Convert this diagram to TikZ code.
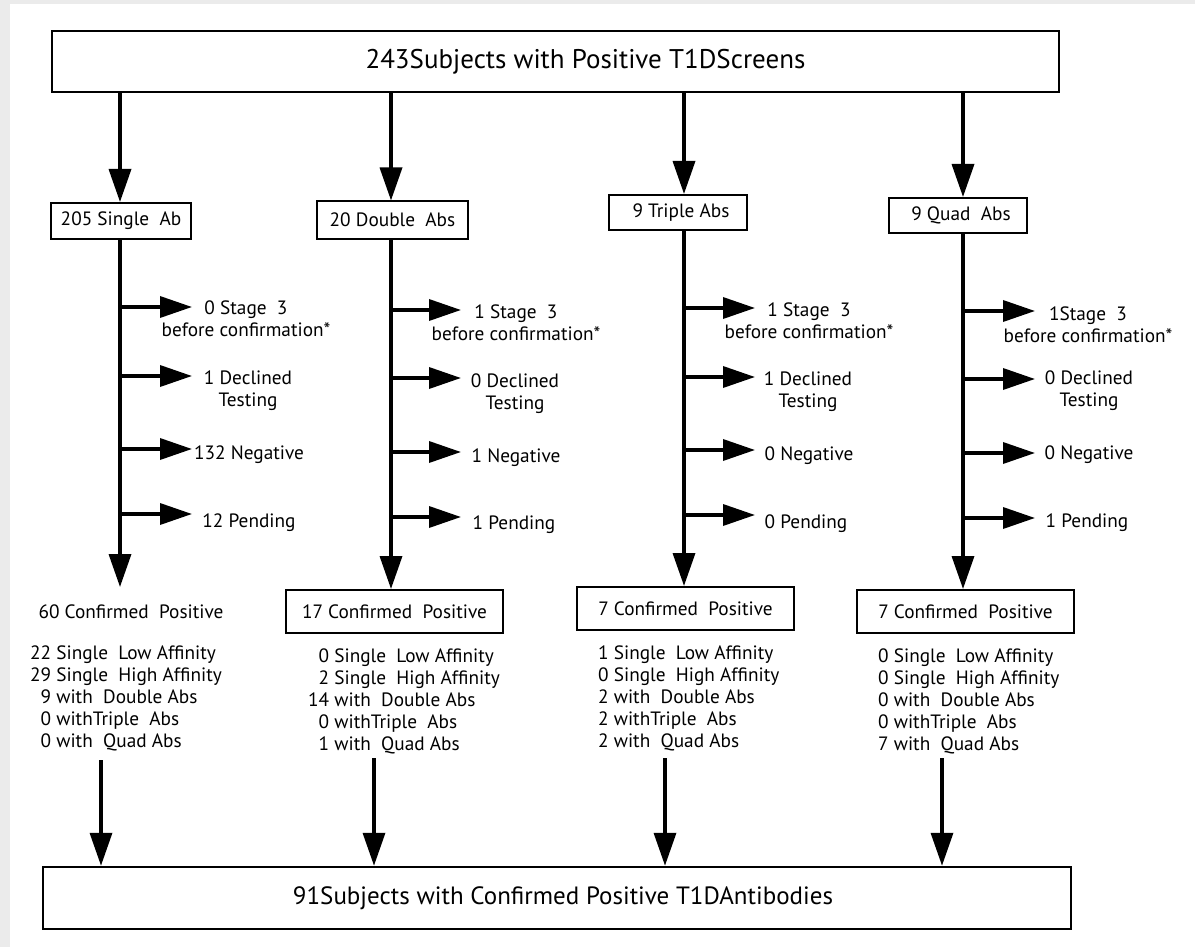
\documentclass[tikz,border=0pt]{standalone}
\usepackage{fontspec}
\setmainfont{PT Sans}
\usetikzlibrary{arrows.meta}
\newcommand\myfont{\fontsize{19.3}{22}\selectfont}
\newcommand\dsp{\ \ }
\begin{document}
\begin{tikzpicture}[x=1pt,y=-1pt,
  topbox/.style={draw=black, line width=2.5pt, inner sep=0pt, font=\fontsize{27}{30}\selectfont},
  botbox/.style={draw=black, line width=2.5pt, inner sep=0pt, font=\fontsize{25}{30}\selectfont},
  abbox/.style={draw=black, line width=2pt, inner sep=0pt, font=\myfont},
  lbl/.style={inner sep=0pt, font=\myfont, anchor=base},
  lst/.style={inner sep=0pt, font=\myfont, anchor=base west},
  colarrow/.style={line width=3.5pt, -{Triangle[length=33pt,width=22pt]}},
  brarrow/.style={line width=3.5pt, -{Triangle[length=32pt,width=21pt]}},
]
\useasboundingbox (0,0) rectangle (1195,947);
\fill[black!8] (0,0) rectangle (1195,947);
\fill[white] (10,4) rectangle (1195,947);

% top and bottom boxes
\node[topbox, minimum width=1007pt, minimum height=61pt] (top) at (555.5,61.5)
  {\hspace*{60pt}243Subjects with Positive T1DScreens};
\node[botbox, minimum width=1028pt, minimum height=62pt] (bot) at (557,898)
  {\hspace*{12pt}91Subjects with Confirmed Positive T1DAntibodies};

% column x coordinates
\coordinate (c1) at (120,0);
\coordinate (c2) at (391,0);
\coordinate (c3) at (684,0);
\coordinate (c4) at (963,0);

% antibody boxes
\node[abbox, minimum width=140pt, minimum height=36pt] (b1) at (121,221) {205 Single\dsp Ab};
\node[abbox, minimum width=151pt, minimum height=37pt] (b2) at (392.5,220) {20 Double\dsp Abs};
\node[abbox, minimum width=138pt, minimum height=35pt] (b3) at (678,212.5) {\hspace*{6pt}9 Triple Abs};
\node[abbox, minimum width=138pt, minimum height=35pt] (b4) at (958,215.5) {\hspace*{6pt}9 Quad\dsp Abs};

\draw[colarrow] (top.south -| c1) -- (b1.north -| c1);
\draw[colarrow] (top.south -| c2) -- (b2.north -| c2);
\draw[colarrow] (top.south -| c3) -- (b3.north -| c3);
\draw[colarrow] (top.south -| c4) -- (b4.north -| c4);

% confirmed positive
\node[inner sep=0pt, font=\myfont] (p1) at (131,612) {60 Confirmed\dsp Positive};
\node[abbox, minimum width=217pt, minimum height=43pt] (p2) at (394.5,611.5) {17 Confirmed\dsp Positive};
\node[abbox, minimum width=217pt, minimum height=43pt] (p3) at (685.5,608.5) {7 Confirmed\dsp Positive};
\node[abbox, minimum width=217pt, minimum height=43pt] (p4) at (965.5,611.5) {7 Confirmed\dsp Positive};

\coordinate (t1) at (120,587);
\draw[colarrow] (b1.south -| c1) -- (t1);
\draw[colarrow] (b2.south -| c2) -- (p2.north -| c2);
\draw[colarrow] (b3.south -| c3) -- (p3.north -| c3);
\draw[colarrow] (b4.south -| c4) -- (p4.north -| c4);

% branch arrows
\foreach \y [count=\i] in {307,376,449,514} {
  \coordinate (a1s\i) at (120,\y);
  \coordinate (a1e\i) at (192,\y);
  \draw[brarrow] (a1s\i) -- (a1e\i);
}
\foreach \y [count=\i] in {310,378,452,517} {
  \coordinate (a2s\i) at (391,\y);
  \coordinate (a2e\i) at (461,\y);
  \draw[brarrow] (a2s\i) -- (a2e\i);
}
\foreach \y [count=\i] in {308,377,450,515} {
  \coordinate (a3s\i) at (684,\y);
  \coordinate (a3e\i) at (755,\y);
  \draw[brarrow] (a3s\i) -- (a3e\i);
}
\foreach \y [count=\i] in {311,379,453,518} {
  \coordinate (a4s\i) at (963,\y);
  \coordinate (a4e\i) at (1035,\y);
  \draw[brarrow] (a4s\i) -- (a4e\i);
}

% branch labels
\node[lbl] (l11) at (246,314) {\begin{tabular}[t]{@{}c@{}}0 Stage\dsp 3\\before confirmation*\end{tabular}};
\node[lbl] (l12) at (248,384) {\begin{tabular}[t]{@{}c@{}}1 Declined\\Testing\end{tabular}};
\node[lbl] (l13) at (249,459) {132 Negative};
\node[lbl] (l14) at (249,527) {12 Pending};

\node[lbl] (l21) at (516,318) {\begin{tabular}[t]{@{}c@{}}1 Stage\dsp 3\\before confirmation*\end{tabular}};
\node[lbl] (l22) at (515,387) {\begin{tabular}[t]{@{}c@{}}0 Declined\\Testing\end{tabular}};
\node[lbl] (l23) at (516,462) {1 Negative};
\node[lbl] (l24) at (514,529) {1 Pending};

\node[lbl] (l31) at (809,316) {\begin{tabular}[t]{@{}c@{}}1 Stage\dsp 3\\before confirmation*\end{tabular}};
\node[lbl] (l32) at (808,385) {\begin{tabular}[t]{@{}c@{}}1 Declined\\Testing\end{tabular}};
\node[lbl] (l33) at (809,460) {0 Negative};
\node[lbl] (l34) at (806,528) {0 Pending};

\node[lbl] (l41) at (1088,320) {\begin{tabular}[t]{@{}c@{}}1Stage\dsp 3\\before confirmation*\end{tabular}};
\node[lbl] (l42) at (1089,384) {\begin{tabular}[t]{@{}c@{}}0 Declined\\Testing\end{tabular}};
\node[lbl] (l43) at (1089,459) {0 Negative};
\node[lbl] (l44) at (1087,527) {1 Pending};

% lists
\node[lst] (s1) at (30,659) {\begin{tabular}[t]{@{}r@{ }l@{}}
22 & Single\dsp Low Affinity\\
29 & Single\dsp High Affinity\\
9 & with\dsp Double Abs\\
0 & withTriple\dsp Abs\\
0 & with\dsp Quad Abs\end{tabular}};
\node[lst] (s2) at (308,662) {\begin{tabular}[t]{@{}r@{ }l@{}}
0 & Single\dsp Low Affinity\\
2 & Single\dsp High Affinity\\
14 & with\dsp Double Abs\\
0 & withTriple\dsp Abs\\
1 & with\dsp Quad Abs\end{tabular}};
\node[lst] (s3) at (598,659) {\begin{tabular}[t]{@{}r@{ }l@{}}
1 & Single\dsp Low Affinity\\
0 & Single\dsp High Affinity\\
2 & with\dsp Double Abs\\
2 & withTriple\dsp Abs\\
2 & with\dsp Quad Abs\end{tabular}};
\node[lst] (s4) at (878,662) {\begin{tabular}[t]{@{}r@{ }l@{}}
0 & Single\dsp Low Affinity\\
0 & Single\dsp High Affinity\\
0 & with\dsp Double Abs\\
0 & withTriple\dsp Abs\\
7 & with\dsp Quad Abs\end{tabular}};

% arrows to bottom box
\coordinate (d1) at (101,760);
\coordinate (d2) at (374,758);
\coordinate (d3) at (665,758);
\coordinate (d4) at (942,758);
\draw[colarrow] (d1) -- (d1 |- bot.north);
\draw[colarrow] (d2) -- (d2 |- bot.north);
\draw[colarrow] (d3) -- (d3 |- bot.north);
\draw[colarrow] (d4) -- (d4 |- bot.north);
\end{tikzpicture}
\end{document}
